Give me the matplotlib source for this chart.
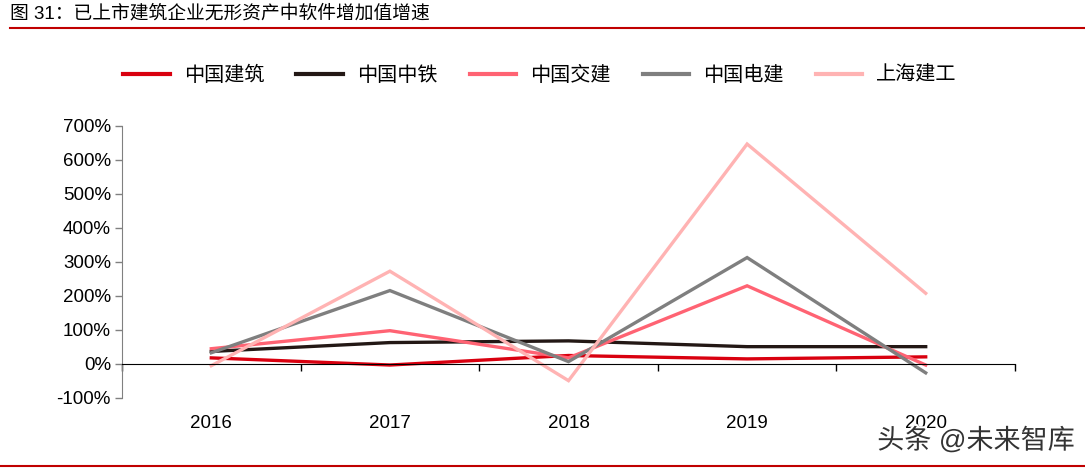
import matplotlib
matplotlib.use("Agg")
import matplotlib.pyplot as plt
from matplotlib.lines import Line2D
import matplotlib.patheffects as pe

plt.rcParams['font.family'] = ['Liberation Sans', 'Noto Sans CJK SC', 'DejaVu Sans']

years = ['2016', '2017', '2018', '2019', '2020']
cscec = [18, -3, 25, 15, 21]          # 中国建筑
crec = [37, 63, 68, 51, 51]           # 中国中铁
cccc = [45, 98, 18, 230, -3]          # 中国交建
powerchina = [33, 216, 7, 313, -26]   # 中国电建
scg = [-5, 273, -49, 647, 208]        # 上海建工

names = ['中国建筑', '中国中铁', '中国交建', '中国电建', '上海建工']
colors = ['#D9000F', '#231815', '#FF6373', '#7F7F7F', '#FFB3B3']
yticks = [-100, 0, 100, 200, 300, 400, 500, 600, 700]

fig = plt.figure(figsize=(10.85, 4.71), dpi=100)
ax = fig.add_axes([122 / 1085, 1 - 398 / 471, (1015 - 122) / 1085, 272 / 471])

x = list(range(len(years)))
series = [cscec, crec, cccc, powerchina, scg]
for vals, name, c in zip(series, names, colors):
    ax.plot(x, vals, color=c, lw=2.4, label=name, solid_joinstyle='miter')

ax.set_xlim(-0.5, len(years) - 0.5)
ax.set_ylim(-100, 700)
ax.set_yticks(yticks)
ax.set_yticklabels([f'{v}%' for v in yticks], fontsize=13.5)
ax.set_xticks([i - 0.5 for i in range(len(years) + 1)])
ax.set_xticklabels([])
for i, yr in enumerate(years):
    ax.text(i, -0.092, yr, transform=ax.get_xaxis_transform(),
            ha='center', va='center', fontsize=13.5)

for s in ['top', 'right']:
    ax.spines[s].set_visible(False)
ax.spines['bottom'].set_position(('data', 0))
ax.spines['bottom'].set_color('black')
ax.spines['left'].set_color('#808080')
ax.tick_params(axis='y', length=5, width=1, color='#808080', pad=3)
ax.tick_params(axis='x', length=5, width=1, direction='out')

handles = [Line2D([0], [0], color=c, lw=3) for c in colors]
fig.legend(handles, names, loc='center', bbox_to_anchor=(540 / 1085, 1 - 75 / 471),
           ncol=5, frameon=False, fontsize=14.5, handlelength=2.3,
           columnspacing=1.6, handletextpad=0.7)

fig.text(10 / 1085, 1 - 14 / 471, '图 31：已上市建筑企业无形资产中软件增加值增速',
         fontsize=13.5, ha='left', va='center')
fig.add_artist(Line2D([10 / 1085, 1], [1 - 28 / 471] * 2, color='#C00000', lw=1.5))
fig.add_artist(Line2D([0, 1], [1 - 466 / 471] * 2, color='#C00000', lw=1.5))

fig.text(1075 / 1085, 1 - 441 / 471, '头条 @未来智库', fontsize=19.5, ha='right', va='center',
         color='#333333', path_effects=[pe.withStroke(linewidth=3, foreground='white')])

fig.savefig('out.png', dpi=100)
